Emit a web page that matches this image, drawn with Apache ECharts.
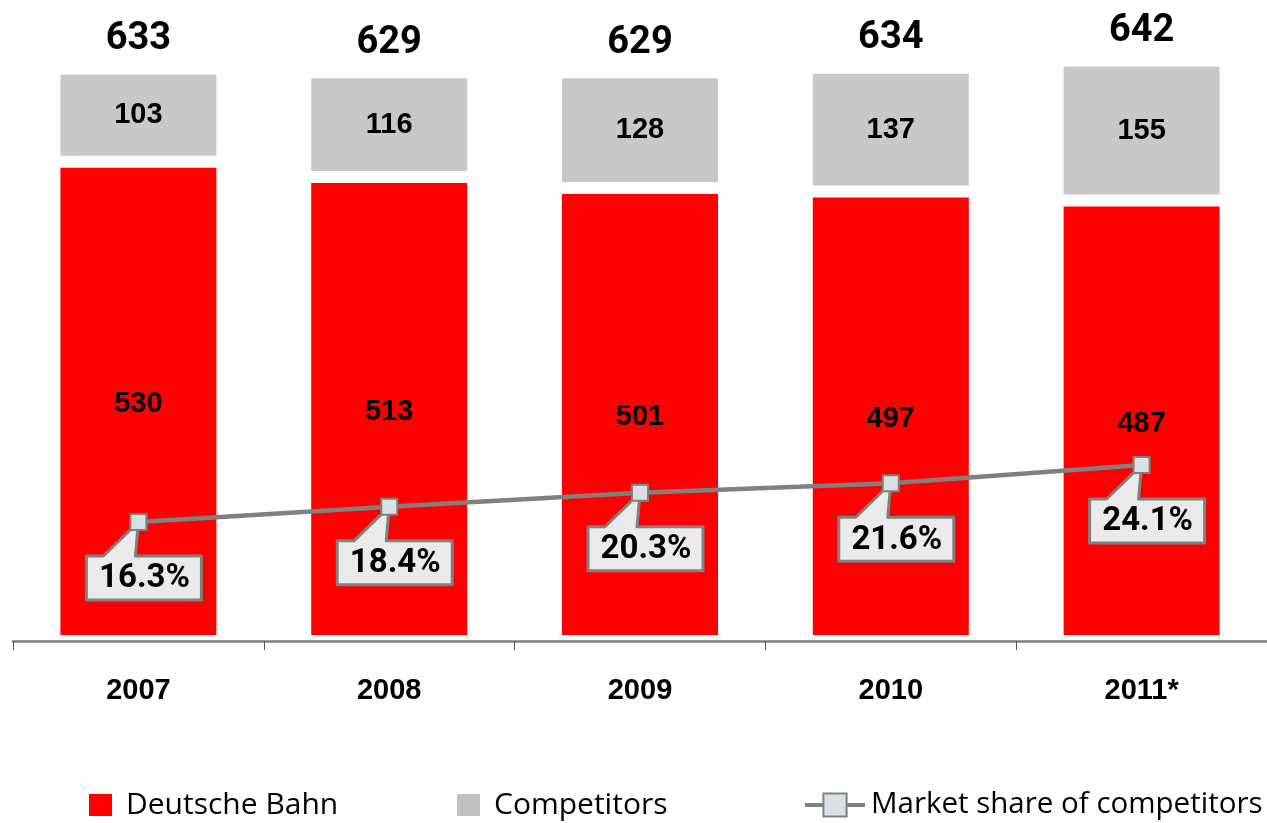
<!DOCTYPE html>
<html>
<head>
<meta charset="utf-8">
<script src="https://cdn.jsdelivr.net/npm/echarts@6/dist/echarts.min.js"></script>
<style>
  html, body { margin: 0; padding: 0; background: #fff; }
  #chart { width: 1267px; height: 823px; }
</style>
</head>
<body>
<div id="chart"></div>
<script>
const years = ['2007', '2008', '2009', '2010', '2011*']
const dbValues = [530, 513, 501, 497, 487]
const competitorValues = [103, 116, 128, 137, 155]
const totals = [633, 629, 629, 634, 642]
const marketShare = [16.3, 18.4, 20.3, 21.6, 24.1]

const RED = '#ff0000'
const GREY = '#c8c8cc'
const LINE = '#808080'

const chart = echarts.init(document.getElementById('chart'))

// callout box with a tail pointing at the marker
function renderCallout(params, api) {
  const pt = api.coord([api.value(0), api.value(1)])
  const x = pt[0]
  const y = pt[1]
  const pts = [
    [x - 52, y + 34], [x - 35, y + 34], [x, y], [x - 3, y + 34],
    [x + 63, y + 34], [x + 63, y + 78], [x - 52, y + 78]
  ]
  return {
    type: 'group',
    children: [{
      type: 'polygon',
      shape: { points: pts },
      style: { fill: '#eaeaea', stroke: LINE, lineWidth: 3, lineJoin: 'round' }
    }, {
      type: 'text',
      style: {
        x: x + 6,
        y: y + 57,
        text: api.value(1).toFixed(1) + '%',
        fill: '#000',
        font: 'bold 33px Roboto',
        align: 'center',
        verticalAlign: 'middle'
      }
    }]
  }
}

const legendText = { fontFamily: 'Open Sans', fontSize: 30, color: '#000', lineHeight: 30 }

const option = {
  animation: false,
  grid: { left: 13, width: 1256, top: 8, height: 633 },
  legend: [{
    left: 87, top: 790, padding: 0, itemWidth: 25, itemHeight: 24, icon: 'rect',
    data: ['Deutsche Bahn'],
    textStyle: Object.assign({ padding: [0, 0, 0, 8] }, legendText)
  }, {
    left: 455, top: 790, padding: 0, itemWidth: 25, itemHeight: 24, icon: 'rect',
    data: [{ name: 'Competitors', itemStyle: { color: '#c0c0c0' } }],
    textStyle: Object.assign({ padding: [0, 0, 0, 8] }, legendText)
  }, {
    left: 803, top: 790, padding: 0, itemWidth: 60, itemHeight: 29,
    data: ['Market share of competitors'],
    lineStyle: { color: LINE, width: 4 },
    itemStyle: { color: '#d9e0e3', borderColor: LINE, borderWidth: 2 },
    textStyle: Object.assign({ padding: [0, 0, 0, 1] }, legendText, { fontSize: 29.5 })
  }],
  xAxis: {
    type: 'category',
    data: years,
    z: 5,
    axisLine: { lineStyle: { color: LINE, width: 2.5 } },
    axisTick: { show: true, length: 9, lineStyle: { color: '#555', width: 1 } },
    axisLabel: {
      margin: 35,
      color: '#000',
      fontFamily: 'Liberation Sans',
      fontWeight: 'bold',
      fontSize: 29
    }
  },
  yAxis: [
    { type: 'value', min: 0, max: 700, show: false },
    { type: 'value', min: 0, max: 86.7, show: false }
  ],
  series: [{
    name: 'Deutsche Bahn',
    type: 'bar',
    stack: 'km',
    barWidth: 168,
    data: dbValues,
    itemStyle: { color: RED, borderColor: '#fff', borderWidth: 6 },
    label: {
      show: true,
      position: 'inside',
      offset: [0, 3],
      color: '#000',
      fontFamily: 'Liberation Sans',
      fontWeight: 'bold',
      fontSize: 29
    }
  }, {
    name: 'Competitors',
    type: 'bar',
    stack: 'km',
    barWidth: 168,
    data: competitorValues,
    itemStyle: { color: GREY, borderColor: '#fff', borderWidth: 6 },
    label: {
      show: true,
      position: 'inside',
      color: '#000',
      fontFamily: 'Liberation Sans',
      fontWeight: 'bold',
      fontSize: 29
    }
  }, {
    name: 'total',
    type: 'bar',
    stack: 'km',
    barWidth: 168,
    data: totals.map(() => 0),
    itemStyle: { color: 'transparent', borderWidth: 0 },
    label: {
      show: true,
      position: 'top',
      distance: 10,
      formatter: p => totals[p.dataIndex],
      color: '#000',
      fontFamily: 'Roboto',
      fontWeight: 'bold',
      fontSize: 38
    }
  }, {
    name: 'callouts',
    type: 'custom',
    yAxisIndex: 1,
    z: 3,
    data: marketShare.map((v, i) => [i, v]),
    renderItem: renderCallout
  }, {
    name: 'Market share of competitors',
    type: 'line',
    yAxisIndex: 1,
    z: 4,
    data: marketShare,
    symbol: 'rect',
    symbolSize: 16,
    lineStyle: { color: LINE, width: 4.5 },
    itemStyle: { color: '#d9e0e3', borderColor: LINE, borderWidth: 2 }
  }]
}

chart.setOption(option)
</script>
</body>
</html>
